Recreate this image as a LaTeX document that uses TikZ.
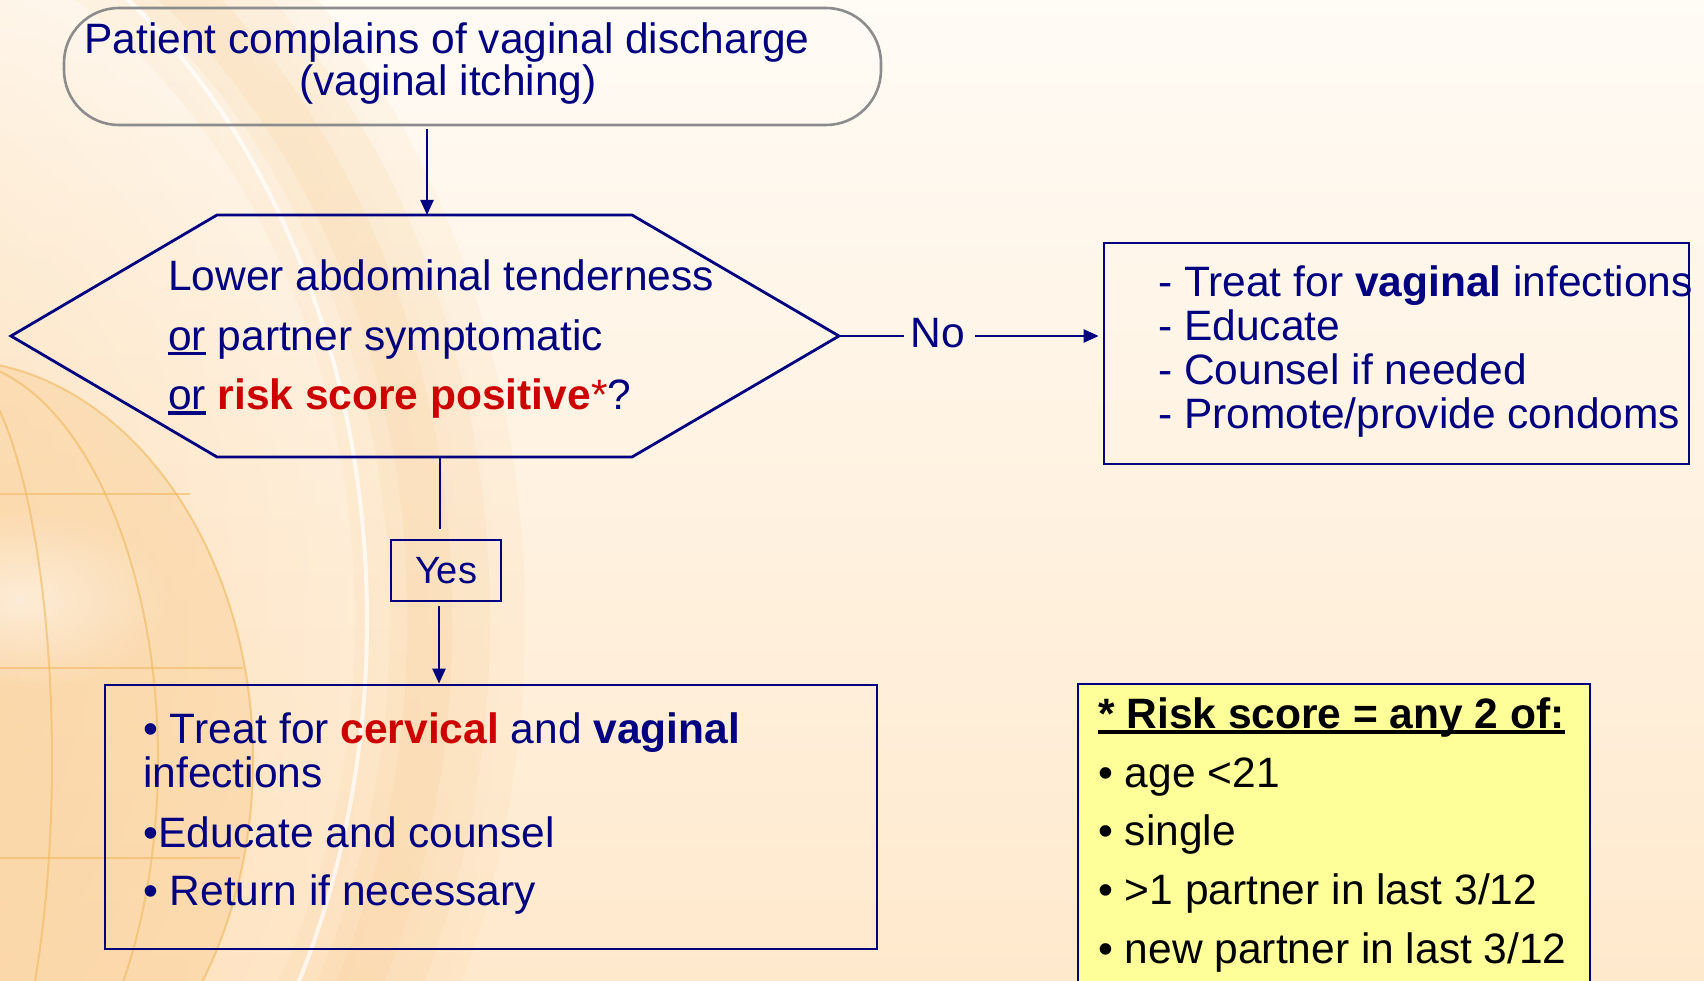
\documentclass[tikz,border=0pt]{standalone}
\usepackage{fontspec}
\setmainfont{Liberation Sans}
\usetikzlibrary{arrows.meta,fadings}
\tikzfading[name=myfade, inner color=transparent!0, outer color=transparent!100]
\definecolor{navyc}{RGB}{0,0,128}
\definecolor{redc}{RGB}{204,0,0}
\definecolor{graybd}{RGB}{140,140,140}
\definecolor{bgtop}{RGB}{255,251,245}
\definecolor{bgbot}{RGB}{255,233,205}
\definecolor{glow}{RGB}{250,200,135}
\definecolor{globeln}{RGB}{240,185,95}
\definecolor{riskfill}{RGB}{255,255,153}
\newcommand\ulx[2][3.2pt]{\setbox0=\hbox{#2}\rlap{\rule[-5.5pt]{\wd0}{#1}}\box0\relax}
\begin{document}
\begin{tikzpicture}[x=1pt,y=-1pt,
  txt/.style={font=\fontsize{42.5}{44}\selectfont, text=navyc, inner sep=0pt, anchor=base west},
  blk/.style={txt, text=black},
  boxs/.style={draw=navyc, line width=2.8pt, rectangle, inner sep=0pt},
  conn/.style={draw=navyc, line width=2.4pt},
  arr/.style={conn, -{Triangle[length=15pt,width=13pt]}},
  gl/.style={draw=globeln, line width=2pt, opacity=0.6}
]
\useasboundingbox (0,0) rectangle (1704,981);
\clip (0,0) rectangle (1704,981);
% background
\shade[top color=bgtop, bottom color=bgbot] (0,0) rectangle (1704,981);
\fill[glow, opacity=0.45, path fading=myfade] (-200,640) ellipse [x radius=700, y radius=900];
\draw[glow, line width=170pt, opacity=0.10] (-200,620) ellipse [x radius=640, y radius=800];
\draw[glow, line width=100pt, opacity=0.12] (-200,620) ellipse [x radius=640, y radius=800];
\draw[glow, line width=45pt, opacity=0.15] (-200,620) ellipse [x radius=630, y radius=790];
\draw[white, line width=4pt, opacity=0.7] (-200,620) ellipse [x radius=567, y radius=760];
% globe
\fill[glow, opacity=0.35] (-50,760) ellipse [x radius=303, y radius=400];
\fill[white, opacity=0.5, path fading=myfade] (20,600) ellipse [x radius=150, y radius=90];
\draw[gl] (-50,760) ellipse [x radius=303, y radius=400];
\draw[gl] (-50,760) ellipse [x radius=208, y radius=400];
\draw[gl] (-50,760) ellipse [x radius=102, y radius=400];
\draw[gl] (0,494) -- (190,494);
\draw[gl] (0,668) -- (243,668);
\draw[gl] (0,858) -- (240,858);
% top box
\node[draw=graybd, line width=2.6pt, rounded corners=55pt, minimum width=817pt, minimum height=117pt, inner sep=0pt] (start) at (472.5,66.5) {};
\node[txt, anchor=base] (t1) at (447,54) {Patient complains of vaginal discharge};
\node[txt, anchor=base] (t2) at (448,96) {(vaginal itching)};
% hexagon
\coordinate (hL) at (11,336);
\coordinate (hTL) at (217,215);
\coordinate (hTR) at (632,215);
\coordinate (hR) at (839,336);
\coordinate (hBR) at (632,457);
\coordinate (hBL) at (217,457);
\coordinate (hTop) at (427,215);
\coordinate (hBot) at (440,457);
\draw[conn, line width=2.8pt] (hL) -- (hTL) -- (hTR) -- (hR) -- (hBR) -- (hBL) -- cycle;
\node[txt] (h1) at (168,291) {Lower abdominal tenderness};
\node[txt] (h2) at (168,350) {\ulx{or} partner symptomatic};
\node[txt] (h3) at (168,409) {\ulx{or} \textcolor{redc}{\textbf{risk score positive}*}?};
\draw[arr] ([yshift=-3pt]start.south -| hTop) -- (hTop);
% no branch
\node[boxs, minimum width=585pt, minimum height=221pt] (notreat) at (1396.5,353.5) {};
\coordinate (noL) at (904,336);
\coordinate (noR) at (975,336);
\draw[conn] (hR) -- (noL);
\node[txt, anchor=base] (no) at (938,348) {No};
\draw[arr, shorten >=4pt] (noR) -- (notreat.west |- noR);
\node[txt] (n1) at (1158,297) {- Treat for \textbf{vaginal} infections};
\node[txt] (n2) at (1158,340.7) {- Educate};
\node[txt] (n3) at (1158,384.4) {- Counsel if needed};
\node[txt] (n4) at (1158,428) {- Promote/provide condoms};
% yes branch
\node[boxs, minimum width=110pt, minimum height=61pt, font=\fontsize{38}{40}\selectfont, text=navyc] (yes) at (446,570.5) {Yes};
\node[boxs, minimum width=772pt, minimum height=264pt] (treat) at (491,817) {};
\coordinate (yx) at (439,0);
\draw[conn] (hBot) -- ([yshift=10pt]yes.north -| hBot);
\draw[arr] ([yshift=-4pt]yes.south -| yx) -- (treat.north -| yx);
\node[txt] (b1) at (143,743) {\textbullet{} Treat for \textcolor{redc}{\textbf{cervical}} and \textbf{vaginal}};
\node[txt] (b2) at (143,787) {infections};
\node[txt] (b3) at (143,847) {\textbullet Educate and counsel};
\node[txt] (b4) at (143,905) {\textbullet{} Return if necessary};
% risk box
\node[boxs, fill=riskfill, minimum width=512pt, minimum height=316pt] (risk) at (1334,842) {};
\node[blk] (r0) at (1098,728) {\ulx[4pt]{\textbf{* Risk score = any 2 of:}}};
\node[blk] (r1) at (1098,787) {\textbullet{} age <21};
\node[blk] (r2) at (1098,845) {\textbullet{} single};
\node[blk] (r3) at (1098,904) {\textbullet{} >1 partner in last 3/12};
\node[blk] (r4) at (1098,963) {\textbullet{} new partner in last 3/12};
\end{tikzpicture}
\end{document}
